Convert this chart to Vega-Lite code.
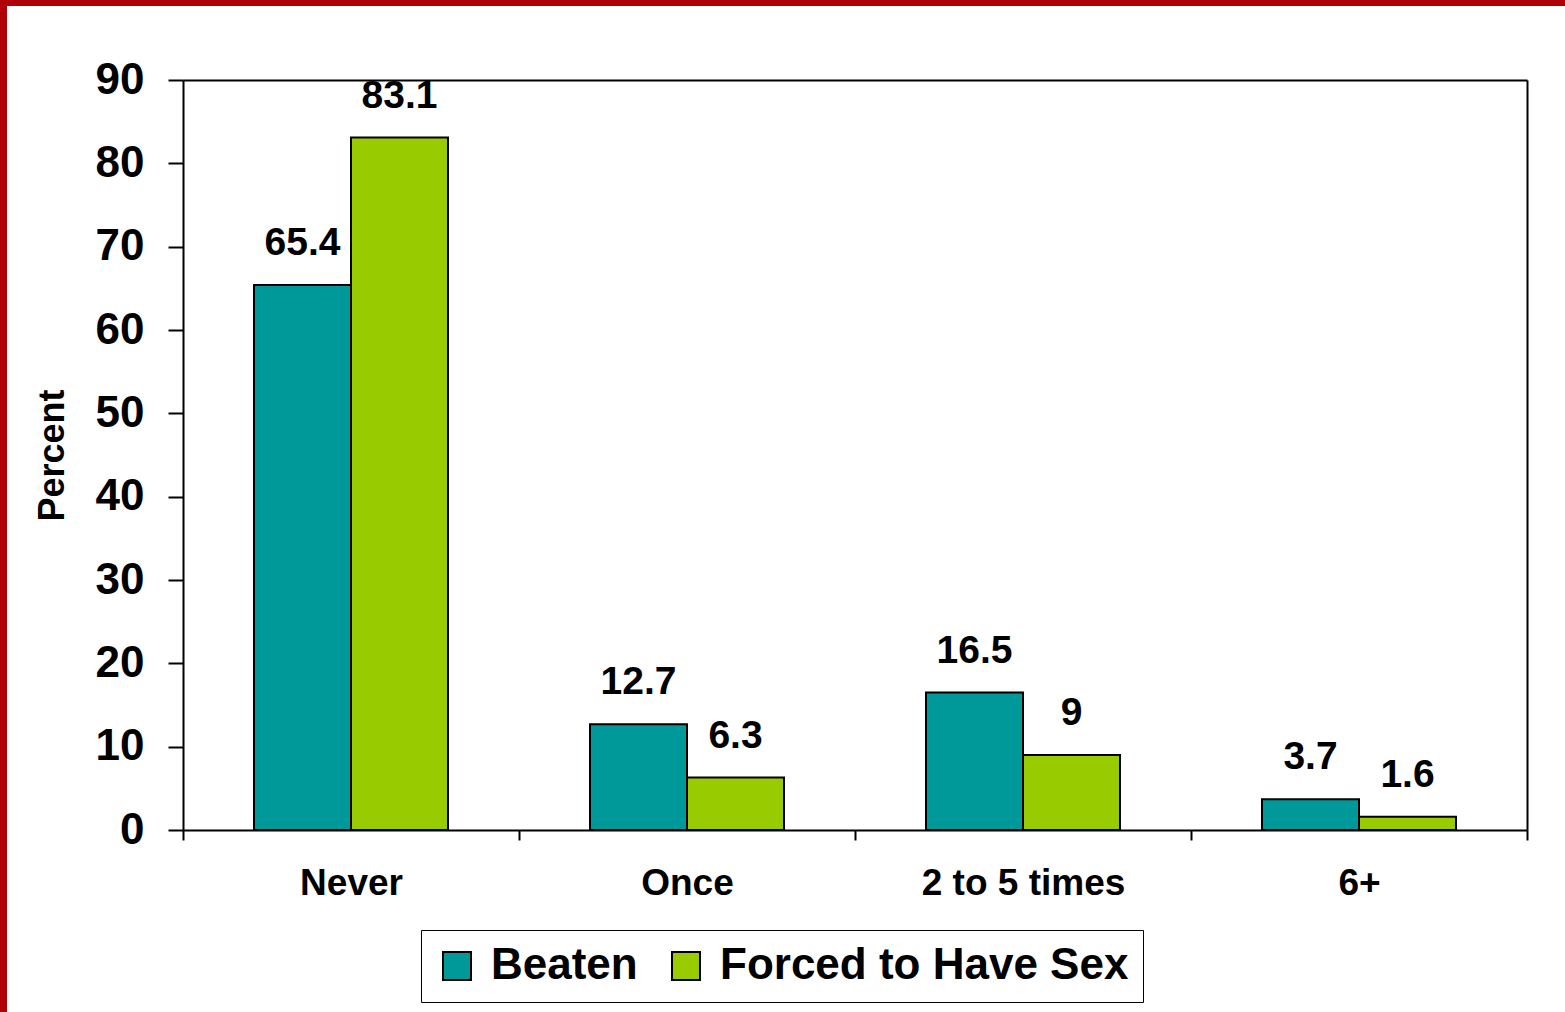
{
  "$schema": "https://vega.github.io/schema/vega-lite/v6.json",
  "autosize": {"type": "none"},
  "width": 1558,
  "height": 1006,
  "padding": {"left": 7, "top": 6, "right": 0, "bottom": 0},
  "background": "#B00008",
  "config": {
    "view": {"fill": "white", "stroke": null},
    "font": "Liberation Sans"
  },
  "data": {
    "values": [
      {"freq": "Never", "type": "Beaten", "pct": 65.4},
      {"freq": "Never", "type": "Forced to Have Sex", "pct": 83.1},
      {"freq": "Once", "type": "Beaten", "pct": 12.7},
      {"freq": "Once", "type": "Forced to Have Sex", "pct": 6.3},
      {"freq": "2 to 5 times", "type": "Beaten", "pct": 16.5},
      {"freq": "2 to 5 times", "type": "Forced to Have Sex", "pct": 9},
      {"freq": "6+", "type": "Beaten", "pct": 3.7},
      {"freq": "6+", "type": "Forced to Have Sex", "pct": 1.6}
    ]
  },
  "resolve": {"axis": {"x": "independent", "y": "independent"}},
  "layer": [
    {
      "mark": {"type": "bar", "stroke": "black", "strokeWidth": 2},
      "encoding": {
        "x": {
          "field": "freq", "type": "nominal", "sort": null,
          "scale": {"range": [176, 1520], "paddingInner": 0, "paddingOuter": 0},
          "axis": {
            "orient": "bottom", "offset": -182, "title": null, "labelAngle": 0,
            "tickBand": "extent", "tickSize": 10, "tickWidth": 2, "tickColor": "black",
            "domainColor": "black", "domainWidth": 2, "labelLimit": 0,
            "labelFont": "Liberation Sans", "labelFontSize": 37, "labelFontWeight": "bold",
            "labelColor": "black", "labelPadding": 25, "grid": false
          }
        },
        "xOffset": {"field": "type", "type": "nominal", "sort": null,
          "scale": {"paddingInner": 0, "paddingOuter": 0.732}},
        "y": {
          "field": "pct", "type": "quantitative",
          "scale": {"domain": [0, 90], "range": [824, 74], "nice": false},
          "axis": {
            "orient": "left", "offset": -176, "title": "Percent",
            "values": [0, 10, 20, 30, 40, 50, 60, 70, 80, 90],
            "tickSize": 15, "tickWidth": 2, "tickColor": "black",
            "domainColor": "black", "domainWidth": 2, "grid": false,
            "labelFont": "Liberation Sans", "labelFontSize": 44, "labelFontWeight": "bold",
            "labelColor": "black", "labelPadding": 24,
            "titleFont": "Liberation Sans", "titleFontSize": 36, "titleFontWeight": "bold",
            "titleColor": "black", "titlePadding": 24
          }
        },
        "color": {
          "field": "type", "type": "nominal",
          "scale": {"domain": ["Beaten", "Forced to Have Sex"], "range": ["#009999", "#99CC00"]},
          "legend": {
            "orient": "none", "legendX": 414, "legendY": 924, "direction": "horizontal",
            "title": null, "symbolType": "square", "symbolSize": 784,
            "symbolStrokeColor": "black", "symbolStrokeWidth": 2, "symbolOpacity": 1,
            "labelFont": "Liberation Sans", "labelFontSize": 44, "labelFontWeight": "bold",
            "labelColor": "black", "labelOffset": 12, "columnPadding": 26, "labelLimit": 0,
            "padding": 14, "strokeColor": "black", "fillColor": "white"
          }
        }
      }
    },
    {
      "mark": {"type": "text", "baseline": "bottom", "dy": -22, "font": "Liberation Sans", "fontSize": 39, "fontWeight": "bold", "color": "black"},
      "encoding": {
        "x": {
          "field": "freq", "type": "nominal", "sort": null,
          "axis": {
            "orient": "top", "offset": -74, "title": null, "labels": false, "ticks": false,
            "domainColor": "black", "domainWidth": 2, "grid": false
          }
        },
        "xOffset": {"field": "type", "type": "nominal", "sort": null},
        "y": {
          "field": "pct", "type": "quantitative",
          "axis": {
            "orient": "right", "offset": -38, "title": null, "labels": false, "ticks": false,
            "domainColor": "black", "domainWidth": 2, "grid": false
          }
        },
        "text": {"field": "pct", "type": "quantitative"}
      }
    }
  ]
}
